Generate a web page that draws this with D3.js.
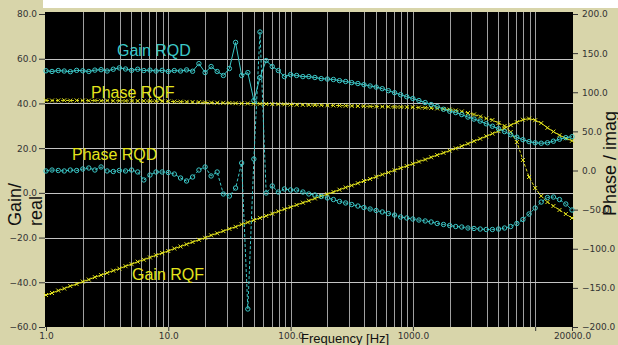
<!DOCTYPE html>
<html>
<head>
<meta charset="utf-8">
<script src="https://cdn.jsdelivr.net/npm/d3@7"></script>
<style>
  body { margin: 0; background: #fff; }
  svg { display: block; }
</style>
</head>
<body>
<svg id="chart" width="618" height="345"></svg>
<script>
// measured frequencies (Hz)
const freqHz = [
  1, 1.12, 1.26, 1.41, 1.58, 1.78, 2, 2.24, 2.51, 2.82, 3.16, 3.55, 3.98, 4.47, 5.01, 5.62, 6.31, 7.08, 7.94, 8.91,
  10, 11.2, 12.6, 14.1, 15.8, 17.8, 20, 22.4, 25.1, 28.2, 31.6, 35.5, 39.8, 44.7, 50.1, 56.2, 63.1, 70.8, 79.4, 89.1,
  100, 112, 126, 141, 158, 178, 200, 224, 251, 282, 316, 355, 398, 447, 501, 562, 631, 708, 794, 891,
  1000, 1120, 1260, 1410, 1580, 1780, 2000, 2240, 2510, 2820, 3160, 3550, 3980, 4470, 5010, 5620, 6310, 7080, 7940, 8910,
  10000, 11200, 12600, 14100, 15800, 17800, 20000
];

// left axis (Gain / real)
const gainRQD = [
  54.6, 54.3, 54.7, 54.5, 54.2, 54.8, 54.6, 54.3, 54.9, 55.1, 54.5, 55.3, 55.9, 55.4, 54.8, 55.3, 54.7, 54.9,
  54.5, 54.8, 54.3, 54.7, 54.5, 55.0, 54.4,
  57.8, 53.8, 56.5, 54.3, 52.5, 55.6, 67.3, 52.5, 53.8, 41.3, 51.6, 59.2, 56.5, 54.7, 52.0, 52.9, 52.5, 52.0, 52.0,
  51.6, 51.1, 50.9, 50.7, 50.2, 49.8, 49.3, 48.9, 48.4, 47.8, 47.3, 46.6, 45.7, 44.8, 43.9, 43.0, 42.2, 41.3, 40.4, 39.5,
  38.6, 37.4, 36.5, 35.9, 35.0, 33.9, 33.0, 32.1, 30.9, 29.8, 28.7, 27.4, 26.0, 24.9, 23.8, 22.9, 22.4, 22.2, 22.4, 23.1,
  24.0, 24.7, 25.1
];
const gainRQF = [
  -45.7, -44.8, -43.7, -42.8, -41.7, -40.8, -39.7, -38.8, -37.7, -36.8,
  -35.8, -34.8, -33.9, -32.8, -31.9, -30.8, -29.9, -28.9, -27.9, -26.9,
  -26.0, -24.9, -24.0, -23.0, -22.0, -21.0, -20.1, -19.0, -18.1, -17.1,
  -16.1, -15.2, -14.1, -13.2, -12.2, -11.2, -10.3, -9.3, -8.3, -7.3,
  -6.4, -5.4, -4.4, -3.5, -2.5, -1.5, -0.6, 0.4, 1.4, 2.4,
  3.3, 4.3, 5.3, 6.2, 7.2, 8.2, 9.1, 10.1, 11.1, 12.0,
  13.0, 14.0, 14.9, 15.9, 16.9, 17.9, 18.9, 19.9, 20.9, 22.0,
  23.1, 24.2, 25.3, 26.5, 27.6, 28.9, 30.3, 31.6, 32.7, 33.2,
  32.5, 31.2, 29.1, 27.4, 25.8, 24.4, 23.3
];

// right axis (Phase / imag)
const phaseRQD = [
  -0.6, 0.6, 0, -0.6, 0.6, 0, 1.9, 3.2, 0.6, 4.5, -0.6, -1.3, 0, -0.6, 0.6, -1.9, -12.1, -5.8,
  -1.9, -1.9, -2.6, -4.5, -9.6, -13.4, -8.3, 0.6, 4.5, -7.0, -1.9,
  -30.0, -32.6, -22.4, 9.6, -177, 14.7, 177, -28.8, -19.8, -27.5, -23.6, -24.9, -24.9, -27.5, -30.0,
  -31.3, -33.2, -35.1, -37.1, -39.6, -41.5, -43.5, -45.4, -47.3, -49.2, -51.1, -53.0, -55.0, -56.9, -59.4,
  -60.7, -62.0, -63.3, -64.5, -65.8, -67.7, -69.0, -70.3, -71.6, -72.2, -73.5, -74.1, -74.8, -75.4, -75.4,
  -74.8, -73.5, -71.6, -67.7, -62.6, -55.6, -47.9, -40.3, -34.5, -33.9, -37.1, -42.8, -50.5
];
const phaseRQF = [
  89.6, 89.4, 89.5, 89.7, 89.3, 89.5, 89.4, 89.2, 89.4, 89.1, 89.3, 89.0, 89.1, 88.9, 89.0, 88.8, 88.9, 88.6,
  88.5, 88.4, 88.3, 88.0, 87.9, 87.7, 87.5, 87.3, 87.0, 86.8, 86.6, 86.5,
  86.3, 86.0, 85.8, 85.7, 85.5, 85.3, 85.1, 84.9, 84.8, 84.6, 84.3, 84.1, 84.0, 83.8,
  83.6, 83.5, 83.3, 83.2, 83.0, 82.8, 82.6, 82.4, 82.2, 82.0, 81.9, 81.7, 81.5, 81.3, 81.2, 81.0,
  80.8, 80.5, 80.2, 79.8, 79.3, 78.6, 77.8, 76.7,
  75.4, 73.5, 71.6, 69.0, 66.5, 64.5, 60.7, 56.9, 49.2, 36.4, 13.4, -8.3, -22.4, -32.6, -40.3, -45.4, -50.5, -55.6, -60.7
];

const gainTicks = [-60, -40, -20, 0, 20, 40, 60, 80];
const phaseTicks = [-200, -150, -100, -50, 0, 50, 100, 150, 200];
const freqTicks = [1, 10, 100, 1000, 10000, 20000];
const freqLabelled = [1, 10, 100, 1000, 20000];

const cyan = '#3cc8c8';
const yellow = '#e4e41c';
const khaki = '#d8d5aa';
const tickFont = '"DejaVu Sans", Verdana, sans-serif';
const labelFont = '"Liberation Sans", Arial, sans-serif';

const width = 618, height = 345;
const margin = {left: 46, right: 572, top: 14, bottom: 327};

const svg = d3.select('#chart');

// background, white strip on top, black plot area
svg.append('rect').attr('width', width).attr('height', height).attr('fill', khaki);
svg.append('rect').attr('x', 43).attr('y', 0).attr('width', width - 43).attr('height', 8).attr('fill', '#fff');
svg.append('rect').attr('x', 45).attr('y', 12).attr('width', 528).attr('height', margin.bottom - 12).attr('fill', '#000');

const x = d3.scaleLog().domain([1, 20000]).range([margin.left, margin.right]);
const yGain = d3.scaleLinear().domain([-60, 80]).range([margin.bottom, margin.top]);
const yPhase = d3.scaleLinear().domain([-200, 200]).range([margin.bottom, margin.top]);

/***
 * grid
 */
const grid = svg.append('g').attr('shape-rendering', 'crispEdges');
grid.selectAll('line.v')
    .data(x.ticks().filter(d => d > 1 && d < 20000))
    .enter().append('line')
    .attr('class', 'v')
    .attr('x1', d => Math.round(x(d)) + 0.5)
    .attr('x2', d => Math.round(x(d)) + 0.5)
    .attr('y1', 12)
    .attr('y2', margin.bottom)
    .attr('stroke', '#a0a0a0');

grid.selectAll('line.h')
    .data(gainTicks.filter(d => d > -60 && d < 80))
    .enter().append('line')
    .attr('class', 'h')
    .attr('x1', 45)
    .attr('x2', 573)
    .attr('y1', d => Math.round(yGain(d)) + 0.5)
    .attr('y2', d => Math.round(yGain(d)) + 0.5)
    .attr('stroke', '#c4c4c4');

/***
 * series
 */
const series = [
  {values: phaseRQF, y: yPhase, color: yellow, dash: '3,2', marker: 'x'},
  {values: gainRQF, y: yGain, color: yellow, dash: null, marker: 'x'},
  {values: phaseRQD, y: yPhase, color: cyan, dash: '3,2', marker: 'o'},
  {values: gainRQD, y: yGain, color: cyan, dash: null, marker: 'o'}
];

series.forEach(s => {
  const line = d3.line()
      .x((d, i) => x(freqHz[i]))
      .y(d => s.y(d));

  svg.append('path')
      .datum(s.values)
      .attr('d', line)
      .attr('fill', 'none')
      .attr('stroke', s.color)
      .attr('stroke-width', 1)
      .attr('stroke-dasharray', s.dash);

  const pts = svg.append('g')
      .selectAll('path')
      .data(s.values)
      .enter();

  if (s.marker === 'o') {
    pts.append('circle')
        .attr('cx', (d, i) => x(freqHz[i]))
        .attr('cy', d => s.y(d))
        .attr('r', 2.2)
        .attr('fill', 'none')
        .attr('stroke', s.color)
        .attr('stroke-width', 1);
  } else {
    pts.append('path')
        .attr('d', (d, i) => {
          const cx = x(freqHz[i]), cy = s.y(d), r = 2;
          return `M${cx - r},${cy - r}L${cx + r},${cy + r}M${cx - r},${cy + r}L${cx + r},${cy - r}`;
        })
        .attr('stroke', s.color)
        .attr('stroke-width', 1);
  }
});

/***
 * axes
 */
function styleAxis(g) {
  g.select('.domain').remove();
  g.selectAll('.tick line').attr('stroke', '#333');
  g.selectAll('.tick text')
      .attr('fill', '#333')
      .style('font-family', tickFont)
      .style('font-size', '9px');
}

svg.append('g')
    .attr('transform', `translate(${margin.left - 1},0)`)
    .call(d3.axisLeft(yGain).tickValues(gainTicks).tickFormat(d3.format('.1f')).tickSize(6).tickPadding(2))
    .call(styleAxis);

svg.append('g')
    .attr('transform', `translate(${margin.right + 1},0)`)
    .call(d3.axisRight(yPhase).tickValues(phaseTicks).tickFormat(d3.format('.1f')).tickSize(5).tickPadding(4))
    .call(styleAxis);

svg.append('g')
    .attr('transform', `translate(0,${margin.bottom})`)
    .call(d3.axisBottom(x).tickValues(freqTicks)
        .tickFormat(d => freqLabelled.includes(d) ? d3.format('.1f')(d) : '')
        .tickSize(4).tickPadding(2))
    .call(styleAxis);

/***
 * titles
 */
svg.append('text')
    .attr('transform', 'translate(21,226) rotate(-90)')
    .style('font-family', labelFont).style('font-size', '18px')
    .attr('fill', '#111')
    .text('Gain/');
svg.append('text')
    .attr('transform', 'translate(42,226) rotate(-90)')
    .style('font-family', labelFont).style('font-size', '18px')
    .attr('fill', '#111')
    .text('real');
svg.append('text')
    .attr('transform', 'translate(616,216) rotate(-90)')
    .style('font-family', labelFont).style('font-size', '18px')
    .attr('fill', '#111')
    .text('Phase / imag');
svg.append('text')
    .attr('x', 301)
    .attr('y', 343)
    .style('font-family', labelFont).style('font-size', '13px')
    .attr('fill', '#111')
    .text('Frequency [Hz]');

/***
 * series labels
 */
const seriesLabels = [
  {text: 'Gain RQD', x: 117, y: 56, color: cyan},
  {text: 'Phase RQF', x: 91, y: 98, color: yellow},
  {text: 'Phase RQD', x: 72, y: 160, color: yellow},
  {text: 'Gain RQF', x: 132, y: 280, color: yellow}
];
svg.append('g')
    .selectAll('text')
    .data(seriesLabels)
    .enter().append('text')
    .attr('x', d => d.x)
    .attr('y', d => d.y)
    .attr('fill', d => d.color)
    .style('font-family', labelFont)
    .style('font-size', '16px')
    .text(d => d.text);
</script>
</body>
</html>
